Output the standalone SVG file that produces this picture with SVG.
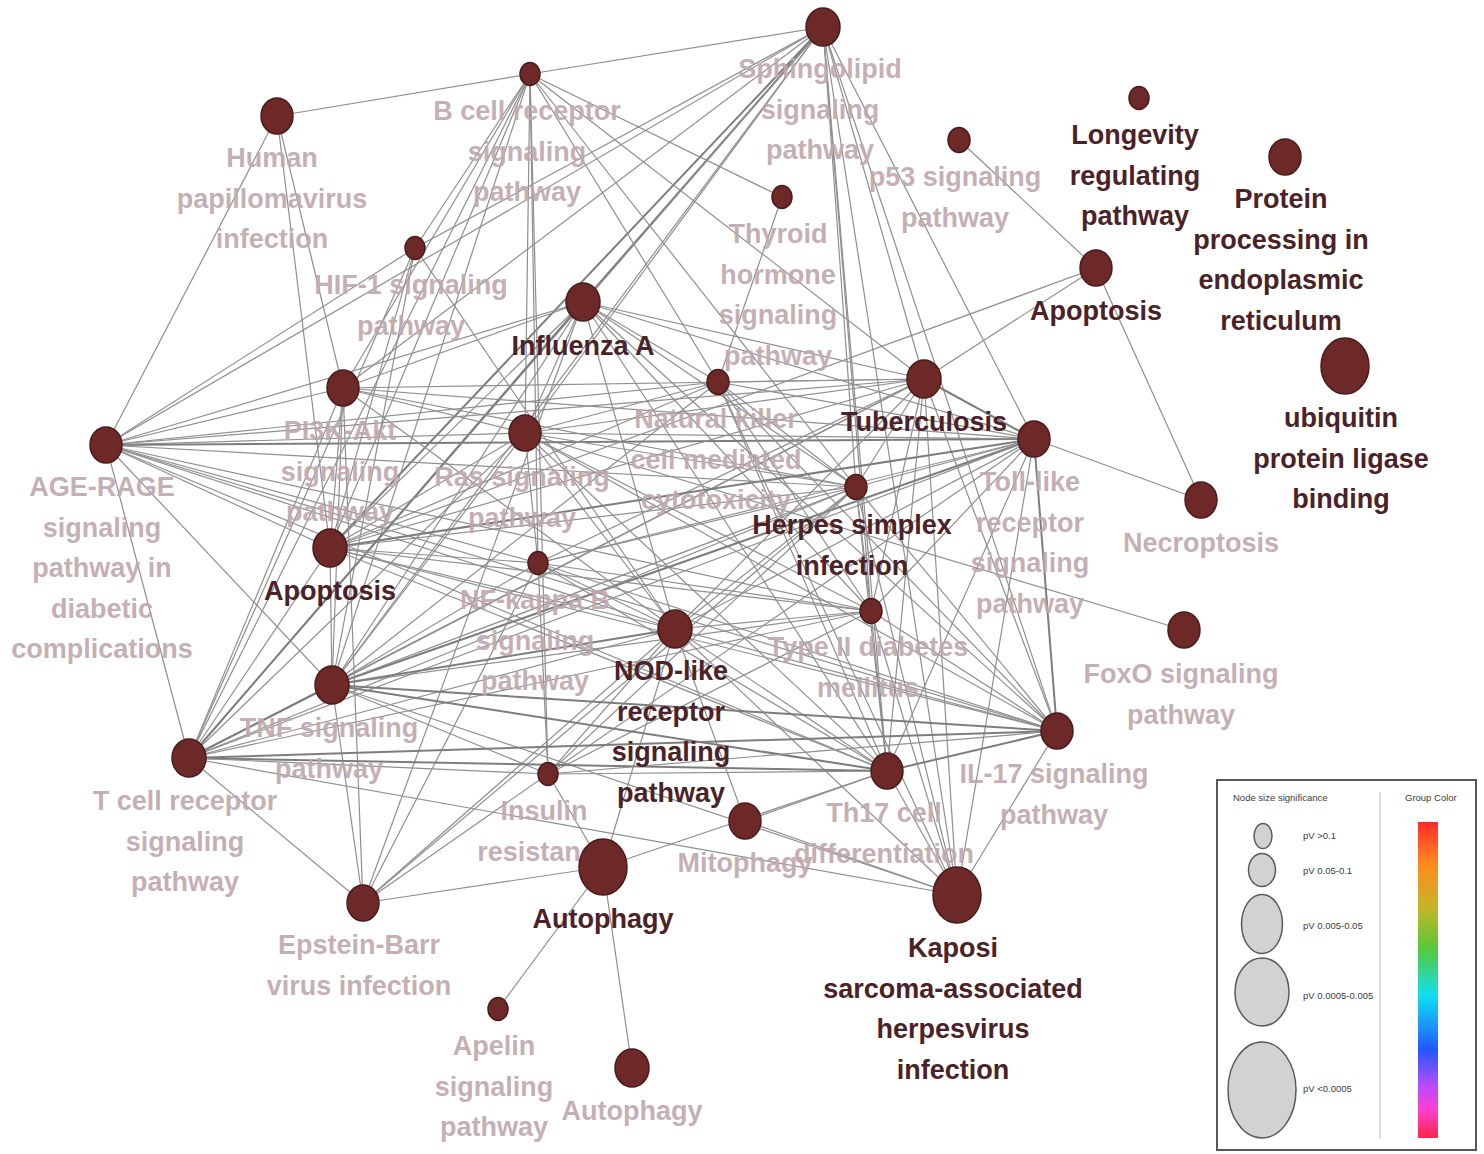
<svg xmlns="http://www.w3.org/2000/svg" width="1484" height="1154" viewBox="0 0 1484 1154">
<defs>
<style>
.e{stroke:#8f8f8f;stroke-width:1.2;fill:none}
.e2{stroke:#7d7d7d;stroke-width:2;fill:none}
.n{fill:#6d2828;stroke:#4a1b1b;stroke-width:1.5}
.lt{font-family:"Liberation Sans",Arial,sans-serif;font-weight:bold;font-size:27px;fill:#bea8ad;text-anchor:middle;fill-opacity:0.92}
.dk{font-family:"Liberation Sans",Arial,sans-serif;font-weight:bold;font-size:27px;fill:#4a2227;text-anchor:middle}
.lg{font-family:"Liberation Sans",Arial,sans-serif;font-size:9.5px;fill:#3c3c3c}
.lgc{fill:#d2d2d2;stroke:#5a5a5a;stroke-width:1.5}
</style>
<linearGradient id="groupColor" x1="0" y1="0" x2="0" y2="1">
<stop offset="0" stop-color="#ff2a2a"/>
<stop offset="0.13" stop-color="#ff8a1e"/>
<stop offset="0.27" stop-color="#c8b428"/>
<stop offset="0.40" stop-color="#58c83a"/>
<stop offset="0.55" stop-color="#10e0f0"/>
<stop offset="0.72" stop-color="#2258ff"/>
<stop offset="0.83" stop-color="#b24cff"/>
<stop offset="0.91" stop-color="#ff3fd2"/>
<stop offset="1" stop-color="#ff2648"/>
</linearGradient>
</defs>
<rect width="1484" height="1154" fill="#ffffff"/>

<g id="connectors">
<!-- peripheral links -->
<line class="e" x1="277" y1="116" x2="530" y2="74"/>
<line class="e" x1="277" y1="116" x2="106" y2="445"/>
<line class="e" x1="277" y1="116" x2="343" y2="388"/>
<line class="e" x1="277" y1="116" x2="330" y2="548"/>
<line class="e" x1="530" y1="74" x2="823" y2="27"/>
<line class="e" x1="959" y1="140" x2="1096" y2="268"/>
<line class="e" x1="1096" y1="268" x2="1201" y2="500"/>
<line class="e" x1="1034" y1="439" x2="1201" y2="500"/>
<line class="e" x1="1096" y1="268" x2="330" y2="548"/>
<line class="e" x1="1096" y1="268" x2="924" y2="379"/>
<line class="e" x1="525" y1="433" x2="1184" y2="630"/>
<line class="e" x1="603" y1="867" x2="498" y2="1009"/>
<line class="e" x1="603" y1="867" x2="632" y2="1068"/>
<line class="e" x1="782" y1="197" x2="530" y2="74"/>
<line class="e" x1="782" y1="197" x2="718" y2="382"/>
<!-- Sphingolipid -->
<line class="e" x1="823" y1="27" x2="106" y2="445"/>
<line class="e2" x1="823" y1="27" x2="583" y2="302"/>
<line class="e" x1="823" y1="27" x2="525" y2="433"/>
<line class="e2" x1="823" y1="27" x2="330" y2="548"/>
<line class="e" x1="823" y1="27" x2="332" y2="685"/>
<line class="e" x1="823" y1="27" x2="189" y2="758"/>
<line class="e" x1="823" y1="27" x2="924" y2="379"/>
<line class="e" x1="823" y1="27" x2="856" y2="487"/>
<line class="e" x1="823" y1="27" x2="1034" y2="439"/>
<line class="e" x1="823" y1="27" x2="887" y2="771"/>
<line class="e" x1="823" y1="27" x2="1057" y2="731"/>
<line class="e" x1="823" y1="27" x2="957" y2="895"/>
<line class="e" x1="823" y1="27" x2="871" y2="611"/>
<line class="e" x1="823" y1="27" x2="343" y2="388"/>
<!-- B cell receptor -->
<line class="e" x1="530" y1="74" x2="343" y2="388"/>
<line class="e" x1="530" y1="74" x2="330" y2="548"/>
<line class="e" x1="530" y1="74" x2="332" y2="685"/>
<line class="e" x1="530" y1="74" x2="189" y2="758"/>
<line class="e" x1="530" y1="74" x2="525" y2="433"/>
<line class="e" x1="530" y1="74" x2="538" y2="563"/>
<line class="e" x1="530" y1="74" x2="718" y2="382"/>
<line class="e" x1="530" y1="74" x2="856" y2="487"/>
<line class="e" x1="530" y1="74" x2="924" y2="379"/>
<line class="e" x1="530" y1="74" x2="548" y2="774"/>
<!-- HIF-1 -->
<line class="e" x1="415" y1="248" x2="530" y2="74"/>
<line class="e" x1="415" y1="248" x2="106" y2="445"/>
<line class="e" x1="415" y1="248" x2="330" y2="548"/>
<line class="e" x1="415" y1="248" x2="332" y2="685"/>
<line class="e" x1="415" y1="248" x2="189" y2="758"/>
<line class="e" x1="415" y1="248" x2="675" y2="629"/>
<line class="e" x1="415" y1="248" x2="823" y2="27"/>
<!-- Influenza A -->
<line class="e" x1="583" y1="302" x2="106" y2="445"/>
<line class="e" x1="583" y1="302" x2="330" y2="548"/>
<line class="e" x1="583" y1="302" x2="332" y2="685"/>
<line class="e2" x1="583" y1="302" x2="189" y2="758"/>
<line class="e" x1="583" y1="302" x2="718" y2="382"/>
<line class="e" x1="583" y1="302" x2="924" y2="379"/>
<line class="e" x1="583" y1="302" x2="1034" y2="439"/>
<line class="e" x1="583" y1="302" x2="856" y2="487"/>
<line class="e" x1="583" y1="302" x2="871" y2="611"/>
<line class="e" x1="583" y1="302" x2="675" y2="629"/>
<line class="e" x1="583" y1="302" x2="1057" y2="731"/>
<line class="e" x1="583" y1="302" x2="887" y2="771"/>
<line class="e" x1="583" y1="302" x2="525" y2="433"/>
<line class="e" x1="583" y1="302" x2="343" y2="388"/>
<line class="e" x1="583" y1="302" x2="363" y2="903"/>
<!-- AGE-RAGE -->
<line class="e" x1="106" y1="445" x2="525" y2="433"/>
<line class="e2" x1="106" y1="445" x2="1034" y2="439"/>
<line class="e" x1="106" y1="445" x2="924" y2="379"/>
<line class="e" x1="106" y1="445" x2="718" y2="382"/>
<line class="e" x1="106" y1="445" x2="330" y2="548"/>
<line class="e" x1="106" y1="445" x2="332" y2="685"/>
<line class="e" x1="106" y1="445" x2="538" y2="563"/>
<line class="e" x1="106" y1="445" x2="856" y2="487"/>
<line class="e" x1="106" y1="445" x2="871" y2="611"/>
<line class="e" x1="106" y1="445" x2="675" y2="629"/>
<line class="e" x1="106" y1="445" x2="189" y2="758"/>
<line class="e" x1="106" y1="445" x2="887" y2="771"/>
<line class="e" x1="106" y1="445" x2="1057" y2="731"/>
<line class="e" x1="106" y1="445" x2="343" y2="388"/>
<!-- PI3K-Akt -->
<line class="e" x1="343" y1="388" x2="330" y2="548"/>
<line class="e" x1="343" y1="388" x2="332" y2="685"/>
<line class="e" x1="343" y1="388" x2="189" y2="758"/>
<line class="e" x1="343" y1="388" x2="525" y2="433"/>
<line class="e" x1="343" y1="388" x2="924" y2="379"/>
<line class="e" x1="343" y1="388" x2="1034" y2="439"/>
<line class="e" x1="343" y1="388" x2="856" y2="487"/>
<line class="e" x1="343" y1="388" x2="675" y2="629"/>
<line class="e" x1="343" y1="388" x2="363" y2="903"/>
<!-- Ras -->
<line class="e" x1="525" y1="433" x2="330" y2="548"/>
<line class="e" x1="525" y1="433" x2="332" y2="685"/>
<line class="e" x1="525" y1="433" x2="189" y2="758"/>
<line class="e" x1="525" y1="433" x2="718" y2="382"/>
<line class="e" x1="525" y1="433" x2="924" y2="379"/>
<line class="e" x1="525" y1="433" x2="1034" y2="439"/>
<line class="e" x1="525" y1="433" x2="856" y2="487"/>
<line class="e" x1="525" y1="433" x2="871" y2="611"/>
<line class="e" x1="525" y1="433" x2="675" y2="629"/>
<line class="e" x1="525" y1="433" x2="1057" y2="731"/>
<line class="e" x1="525" y1="433" x2="887" y2="771"/>
<line class="e" x1="525" y1="433" x2="538" y2="563"/>
<!-- Natural killer -->
<line class="e" x1="718" y1="382" x2="330" y2="548"/>
<line class="e" x1="718" y1="382" x2="332" y2="685"/>
<line class="e" x1="718" y1="382" x2="924" y2="379"/>
<line class="e" x1="718" y1="382" x2="1034" y2="439"/>
<line class="e" x1="718" y1="382" x2="856" y2="487"/>
<line class="e" x1="718" y1="382" x2="871" y2="611"/>
<line class="e" x1="718" y1="382" x2="887" y2="771"/>
<line class="e" x1="718" y1="382" x2="1057" y2="731"/>
<line class="e" x1="718" y1="382" x2="957" y2="895"/>
<!-- Tuberculosis -->
<line class="e" x1="924" y1="379" x2="330" y2="548"/>
<line class="e" x1="924" y1="379" x2="332" y2="685"/>
<line class="e2" x1="924" y1="379" x2="1034" y2="439"/>
<line class="e" x1="924" y1="379" x2="856" y2="487"/>
<line class="e" x1="924" y1="379" x2="871" y2="611"/>
<line class="e" x1="924" y1="379" x2="675" y2="629"/>
<line class="e" x1="924" y1="379" x2="887" y2="771"/>
<line class="e" x1="924" y1="379" x2="1057" y2="731"/>
<line class="e" x1="924" y1="379" x2="957" y2="895"/>
<line class="e" x1="924" y1="379" x2="189" y2="758"/>
<line class="e" x1="924" y1="379" x2="538" y2="563"/>
<!-- Toll-like receptor -->
<line class="e2" x1="1034" y1="439" x2="330" y2="548"/>
<line class="e2" x1="1034" y1="439" x2="332" y2="685"/>
<line class="e" x1="1034" y1="439" x2="189" y2="758"/>
<line class="e" x1="1034" y1="439" x2="856" y2="487"/>
<line class="e" x1="1034" y1="439" x2="538" y2="563"/>
<line class="e" x1="1034" y1="439" x2="871" y2="611"/>
<line class="e" x1="1034" y1="439" x2="887" y2="771"/>
<line class="e2" x1="1034" y1="439" x2="1057" y2="731"/>
<line class="e" x1="1034" y1="439" x2="957" y2="895"/>
<line class="e" x1="1034" y1="439" x2="675" y2="629"/>
<line class="e" x1="1034" y1="439" x2="548" y2="774"/>
<!-- Herpes simplex -->
<line class="e" x1="856" y1="487" x2="330" y2="548"/>
<line class="e" x1="856" y1="487" x2="332" y2="685"/>
<line class="e" x1="856" y1="487" x2="189" y2="758"/>
<line class="e" x1="856" y1="487" x2="538" y2="563"/>
<line class="e" x1="856" y1="487" x2="871" y2="611"/>
<line class="e" x1="856" y1="487" x2="675" y2="629"/>
<line class="e" x1="856" y1="487" x2="887" y2="771"/>
<line class="e" x1="856" y1="487" x2="1057" y2="731"/>
<line class="e" x1="856" y1="487" x2="957" y2="895"/>
<line class="e" x1="856" y1="487" x2="548" y2="774"/>
<line class="e" x1="856" y1="487" x2="363" y2="903"/>
<!-- Apoptosis -->
<line class="e" x1="330" y1="548" x2="332" y2="685"/>
<line class="e" x1="330" y1="548" x2="189" y2="758"/>
<line class="e" x1="330" y1="548" x2="538" y2="563"/>
<line class="e" x1="330" y1="548" x2="871" y2="611"/>
<line class="e" x1="330" y1="548" x2="675" y2="629"/>
<line class="e" x1="330" y1="548" x2="1057" y2="731"/>
<line class="e" x1="330" y1="548" x2="887" y2="771"/>
<!-- NF-kappa B -->
<line class="e" x1="538" y1="563" x2="332" y2="685"/>
<line class="e" x1="538" y1="563" x2="871" y2="611"/>
<line class="e" x1="538" y1="563" x2="675" y2="629"/>
<line class="e" x1="538" y1="563" x2="1057" y2="731"/>
<line class="e" x1="538" y1="563" x2="887" y2="771"/>
<line class="e" x1="538" y1="563" x2="363" y2="903"/>
<line class="e" x1="538" y1="563" x2="548" y2="774"/>
<!-- Type II diabetes -->
<line class="e" x1="871" y1="611" x2="332" y2="685"/>
<line class="e" x1="871" y1="611" x2="189" y2="758"/>
<line class="e" x1="871" y1="611" x2="675" y2="629"/>
<line class="e" x1="871" y1="611" x2="1057" y2="731"/>
<line class="e" x1="871" y1="611" x2="887" y2="771"/>
<line class="e" x1="871" y1="611" x2="957" y2="895"/>
<line class="e" x1="871" y1="611" x2="548" y2="774"/>
<!-- NOD-like -->
<line class="e2" x1="675" y1="629" x2="332" y2="685"/>
<line class="e" x1="675" y1="629" x2="189" y2="758"/>
<line class="e" x1="675" y1="629" x2="1057" y2="731"/>
<line class="e" x1="675" y1="629" x2="887" y2="771"/>
<line class="e" x1="675" y1="629" x2="745" y2="821"/>
<line class="e" x1="675" y1="629" x2="548" y2="774"/>
<line class="e" x1="675" y1="629" x2="363" y2="903"/>
<line class="e" x1="675" y1="629" x2="957" y2="895"/>
<line class="e" x1="675" y1="629" x2="603" y2="867"/>
<!-- TNF -->
<line class="e2" x1="332" y1="685" x2="189" y2="758"/>
<line class="e2" x1="332" y1="685" x2="1057" y2="731"/>
<line class="e2" x1="332" y1="685" x2="887" y2="771"/>
<line class="e" x1="332" y1="685" x2="363" y2="903"/>
<line class="e" x1="332" y1="685" x2="548" y2="774"/>
<line class="e" x1="332" y1="685" x2="957" y2="895"/>
<!-- T cell receptor -->
<line class="e2" x1="189" y1="758" x2="1057" y2="731"/>
<line class="e2" x1="189" y1="758" x2="887" y2="771"/>
<line class="e" x1="189" y1="758" x2="548" y2="774"/>
<line class="e" x1="189" y1="758" x2="363" y2="903"/>
<line class="e" x1="189" y1="758" x2="957" y2="895"/>
<!-- IL-17 / Insulin / Th17 / Mitophagy -->
<line class="e2" x1="1057" y1="731" x2="887" y2="771"/>
<line class="e" x1="1057" y1="731" x2="957" y2="895"/>
<line class="e" x1="1057" y1="731" x2="548" y2="774"/>
<line class="e" x1="548" y1="774" x2="887" y2="771"/>
<line class="e" x1="548" y1="774" x2="363" y2="903"/>
<line class="e" x1="548" y1="774" x2="603" y2="867"/>
<line class="e" x1="887" y1="771" x2="745" y2="821"/>
<line class="e" x1="887" y1="771" x2="957" y2="895"/>
<line class="e" x1="887" y1="771" x2="603" y2="867"/>
<line class="e" x1="745" y1="821" x2="957" y2="895"/>
<line class="e" x1="603" y1="867" x2="363" y2="903"/>
</g>

<g id="node-sphingolipid"><ellipse class="n" cx="823" cy="27" rx="17" ry="19"/><text class="lt" x="820" y="78">Sphingolipid<tspan x="820" dy="40.6">signaling</tspan><tspan x="820" dy="40.6">pathway</tspan></text></g>
<g id="node-bcell"><ellipse class="n" cx="530" cy="74" rx="10" ry="11.5"/><text class="lt" x="527" y="120">B cell receptor<tspan x="527" dy="40.6">signaling</tspan><tspan x="527" dy="40.6">pathway</tspan></text></g>
<g id="node-hpv"><ellipse class="n" cx="277" cy="116" rx="16" ry="18"/><text class="lt" x="272" y="167">Human<tspan x="272" dy="40.6">papillomavirus</tspan><tspan x="272" dy="40.6">infection</tspan></text></g>
<g id="node-hif1"><ellipse class="n" cx="415" cy="248" rx="10" ry="11.5"/><text class="lt" x="411" y="294">HIF-1 signaling<tspan x="411" dy="40.6">pathway</tspan></text></g>
<g id="node-influenza"><ellipse class="n" cx="583" cy="302" rx="17" ry="19"/><text class="dk" x="583" y="355">Influenza A</text></g>
<g id="node-thyroid"><ellipse class="n" cx="782" cy="197" rx="10" ry="11.5"/><text class="lt" x="778" y="243">Thyroid<tspan x="778" dy="40.6">hormone</tspan><tspan x="778" dy="40.6">signaling</tspan><tspan x="778" dy="40.6">pathway</tspan></text></g>
<g id="node-p53"><ellipse class="n" cx="959" cy="140" rx="11" ry="12.5"/><text class="lt" x="955" y="186">p53 signaling<tspan x="955" dy="40.6">pathway</tspan></text></g>
<g id="node-longevity"><ellipse class="n" cx="1139" cy="98" rx="10" ry="11.5"/><text class="dk" x="1135" y="144">Longevity<tspan x="1135" dy="40.6">regulating</tspan><tspan x="1135" dy="40.6">pathway</tspan></text></g>
<g id="node-protein-er"><ellipse class="n" cx="1285" cy="157" rx="16" ry="18"/><text class="dk" x="1281" y="208">Protein<tspan x="1281" dy="40.6">processing in</tspan><tspan x="1281" dy="40.6">endoplasmic</tspan><tspan x="1281" dy="40.6">reticulum</tspan></text></g>
<g id="node-apoptosis-r"><ellipse class="n" cx="1096" cy="268" rx="16" ry="18"/><text class="dk" x="1096" y="320">Apoptosis</text></g>
<g id="node-ubiquitin"><ellipse class="n" cx="1345" cy="366" rx="24" ry="28"/><text class="dk" x="1341" y="427">ubiquitin<tspan x="1341" dy="40.6">protein ligase</tspan><tspan x="1341" dy="40.6">binding</tspan></text></g>
<g id="node-pi3k"><ellipse class="n" cx="343" cy="388" rx="16" ry="18"/><text class="lt" x="340" y="440">PI3K-Akt<tspan x="340" dy="40.6">signaling</tspan><tspan x="340" dy="40.6">pathway</tspan></text></g>
<g id="node-nk"><ellipse class="n" cx="718" cy="382" rx="11" ry="12.5"/><text class="lt" x="716" y="428">Natural killer<tspan x="716" dy="40.6">cell mediated</tspan><tspan x="716" dy="40.6">cytotoxicity</tspan></text></g>
<g id="node-tuberculosis"><ellipse class="n" cx="924" cy="379" rx="17" ry="19"/><text class="dk" x="924" y="431">Tuberculosis</text></g>
<g id="node-agerage"><ellipse class="n" cx="106" cy="445" rx="16" ry="18"/><text class="lt" x="102" y="496">AGE-RAGE<tspan x="102" dy="40.6">signaling</tspan><tspan x="102" dy="40.6">pathway in</tspan><tspan x="102" dy="40.6">diabetic</tspan><tspan x="102" dy="40.6">complications</tspan></text></g>
<g id="node-ras"><ellipse class="n" cx="525" cy="433" rx="16" ry="18"/><text class="lt" x="522" y="486">Ras signaling<tspan x="522" dy="40.6">pathway</tspan></text></g>
<g id="node-tlr"><ellipse class="n" cx="1034" cy="439" rx="16" ry="18"/><text class="lt" x="1030" y="491">Toll-like<tspan x="1030" dy="40.6">receptor</tspan><tspan x="1030" dy="40.6">signaling</tspan><tspan x="1030" dy="40.6">pathway</tspan></text></g>
<g id="node-hsv"><ellipse class="n" cx="856" cy="487" rx="11" ry="12.5"/><text class="dk" x="852" y="534">Herpes simplex<tspan x="852" dy="40.6">infection</tspan></text></g>
<g id="node-necroptosis"><ellipse class="n" cx="1201" cy="500" rx="16" ry="18"/><text class="lt" x="1201" y="552">Necroptosis</text></g>
<g id="node-apoptosis-l"><ellipse class="n" cx="330" cy="548" rx="17" ry="19"/><text class="dk" x="330" y="600">Apoptosis</text></g>
<g id="node-nfkb"><ellipse class="n" cx="538" cy="563" rx="10" ry="11.5"/><text class="lt" x="535" y="609">NF-kappa B<tspan x="535" dy="40.6">signaling</tspan><tspan x="535" dy="40.6">pathway</tspan></text></g>
<g id="node-t2d"><ellipse class="n" cx="871" cy="611" rx="11" ry="12.5"/><text class="lt" x="868" y="656">Type II diabetes<tspan x="868" dy="40.6">mellitus</tspan></text></g>
<g id="node-nod"><ellipse class="n" cx="675" cy="629" rx="17" ry="19"/><text class="dk" x="671" y="680">NOD-like<tspan x="671" dy="40.6">receptor</tspan><tspan x="671" dy="40.6">signaling</tspan><tspan x="671" dy="40.6">pathway</tspan></text></g>
<g id="node-foxo"><ellipse class="n" cx="1184" cy="630" rx="16" ry="18"/><text class="lt" x="1181" y="683">FoxO signaling<tspan x="1181" dy="40.6">pathway</tspan></text></g>
<g id="node-tnf"><ellipse class="n" cx="332" cy="685" rx="17" ry="19"/><text class="lt" x="329" y="737">TNF signaling<tspan x="329" dy="40.6">pathway</tspan></text></g>
<g id="node-tcr"><ellipse class="n" cx="189" cy="758" rx="17" ry="19"/><text class="lt" x="185" y="810">T cell receptor<tspan x="185" dy="40.6">signaling</tspan><tspan x="185" dy="40.6">pathway</tspan></text></g>
<g id="node-il17"><ellipse class="n" cx="1057" cy="731" rx="16" ry="18"/><text class="lt" x="1054" y="783">IL-17 signaling<tspan x="1054" dy="40.6">pathway</tspan></text></g>
<g id="node-insulin"><ellipse class="n" cx="548" cy="774" rx="10" ry="11.5"/><text class="lt" x="544" y="820">Insulin<tspan x="544" dy="40.6">resistance</tspan></text></g>
<g id="node-th17"><ellipse class="n" cx="887" cy="771" rx="16" ry="18"/><text class="lt" x="884" y="822">Th17 cell<tspan x="884" dy="40.6">differentiation</tspan></text></g>
<g id="node-mitophagy"><ellipse class="n" cx="745" cy="821" rx="16" ry="18"/><text class="lt" x="745" y="872">Mitophagy</text></g>
<g id="node-autophagy"><ellipse class="n" cx="603" cy="867" rx="24" ry="28"/><text class="dk" x="603" y="928">Autophagy</text></g>
<g id="node-kshv"><ellipse class="n" cx="957" cy="895" rx="24" ry="28"/><text class="dk" x="953" y="957">Kaposi<tspan x="953" dy="40.6">sarcoma-associated</tspan><tspan x="953" dy="40.6">herpesvirus</tspan><tspan x="953" dy="40.6">infection</tspan></text></g>
<g id="node-ebv"><ellipse class="n" cx="363" cy="903" rx="16" ry="18"/><text class="lt" x="359" y="954">Epstein-Barr<tspan x="359" dy="40.6">virus infection</tspan></text></g>
<g id="node-apelin"><ellipse class="n" cx="498" cy="1009" rx="10" ry="11.5"/><text class="lt" x="494" y="1055">Apelin<tspan x="494" dy="40.6">signaling</tspan><tspan x="494" dy="40.6">pathway</tspan></text></g>
<g id="node-autophagy-2"><ellipse class="n" cx="632" cy="1068" rx="17" ry="19"/><text class="lt" x="632" y="1120">Autophagy</text></g>

<g id="legend">
<rect x="1217" y="780" width="259" height="370" fill="#ffffff" stroke="#585858" stroke-width="2"/>
<text class="lg" x="1233" y="801" font-size="10">Node size significance</text>
<text class="lg" x="1405" y="801" font-size="10">Group Color</text>
<line x1="1380" y1="792" x2="1380" y2="1138" stroke="#b8b8b8" stroke-width="1"/>
<ellipse class="lgc" cx="1263" cy="836" rx="9" ry="12.5"/>
<ellipse class="lgc" cx="1262" cy="870" rx="13.5" ry="16.5"/>
<ellipse class="lgc" cx="1262" cy="924" rx="20.5" ry="29.5"/>
<ellipse class="lgc" cx="1262" cy="992" rx="27" ry="34"/>
<ellipse class="lgc" cx="1262" cy="1090" rx="34" ry="48"/>
<text class="lg" x="1303" y="839">pV &gt;0.1</text>
<text class="lg" x="1303" y="874">pV 0.05-0.1</text>
<text class="lg" x="1303" y="929">pV 0.005-0.05</text>
<text class="lg" x="1303" y="999">pV 0.0005-0.005</text>
<text class="lg" x="1303" y="1092">pV &lt;0.0005</text>
<rect x="1418" y="822" width="20" height="316" fill="url(#groupColor)"/>
</g>
</svg>
